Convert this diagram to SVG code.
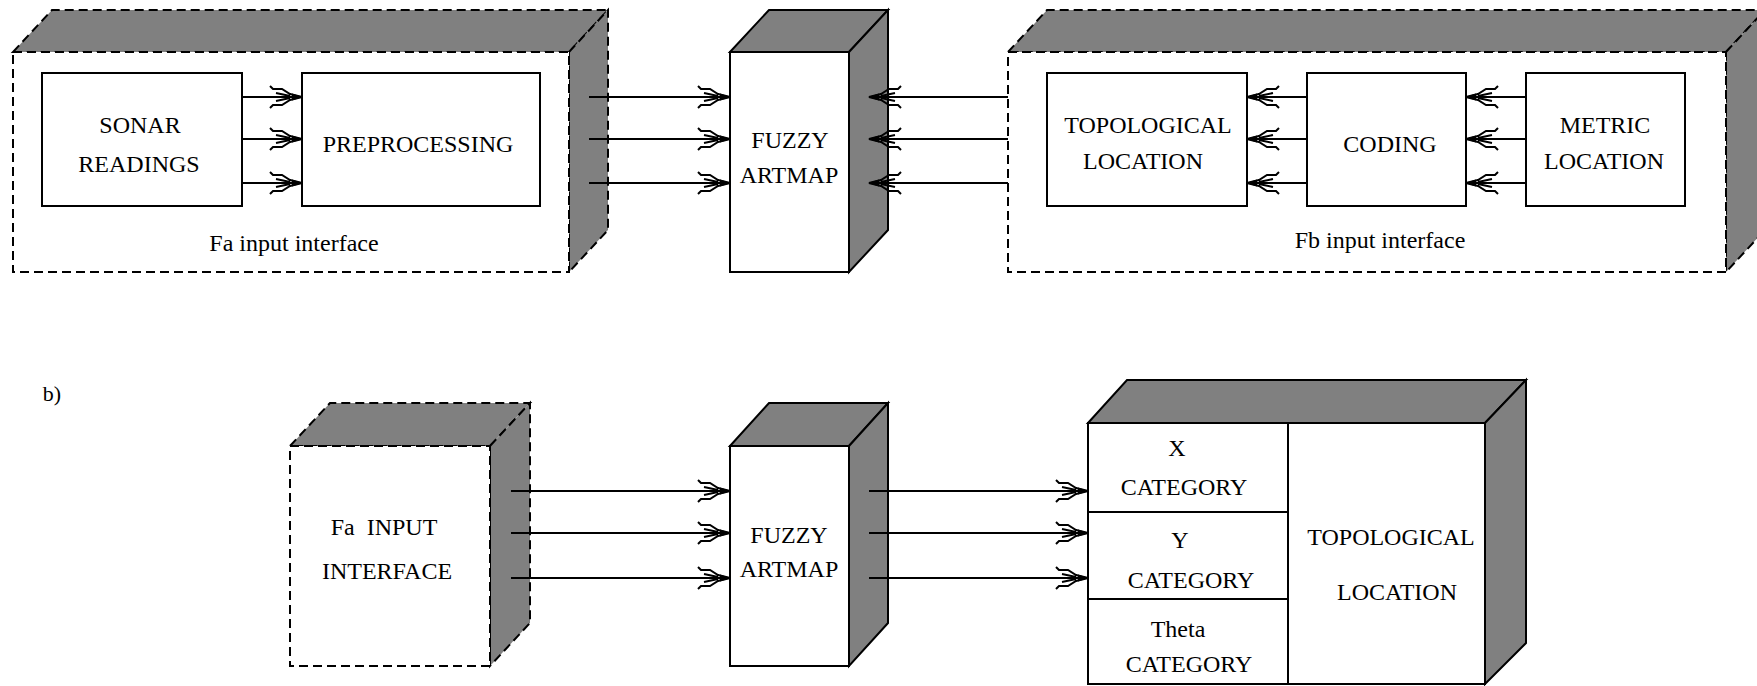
<svg xmlns="http://www.w3.org/2000/svg" width="1757" height="686" viewBox="0 0 1757 686">
<style>
.face{fill:#fff;stroke:#000;stroke-width:2}
.shade{fill:#808080;stroke:#000;stroke-width:2;stroke-linejoin:miter}
.dash{stroke-dasharray:9 5}
.t{font-family:"Liberation Serif","Times New Roman",serif;font-size:24px;text-anchor:middle;fill:#000}
.conn line{stroke:#000;stroke-width:2;marker-end:url(#ah)}
</style>
<defs>
<marker id="ah" markerUnits="userSpaceOnUse" viewBox="-34 -13 36 26" markerWidth="36" markerHeight="26" refX="0" refY="0" orient="auto" overflow="visible">
<path d="M-32,-11 L-29,-8 L-20,-8 L-12,-3 L0,0 M-32,11 L-29,8 L-20,8 L-12,3 L0,0 M-26,-4 L-12,-1 M-26,4 L-12,1" fill="none" stroke="#000" stroke-width="2"/>
<path d="M1,0 L-10,-3.5 L-10,3.5 Z" fill="#000"/>
</marker>
</defs>

<g id="fa-interface">
<polygon class="shade dash" points="13,52 52,10 608,10 569,52"/>
<polygon class="shade dash" points="569,52 608,10 608,230 569,272"/>
<rect class="face dash" x="13" y="52" width="556" height="220"/>
<text class="t" x="294" y="251">Fa input interface</text>
</g>
<g id="sonar">
<rect class="face" x="42" y="73" width="200" height="133"/>
<text class="t" x="140" y="133">SONAR</text>
<text class="t" x="139" y="172">READINGS</text>
</g>
<g id="preprocessing">
<rect class="face" x="302" y="73" width="238" height="133"/>
<text class="t" x="418" y="152">PREPROCESSING</text>
</g>

<g id="fuzzy-a">
<polygon class="shade" points="730,52 769,10 888,10 849,52"/>
<polygon class="shade" points="849,52 888,10 888,230 849,272"/>
<rect class="face" x="730" y="52" width="119" height="220"/>
<text class="t" x="790" y="148">FUZZY</text>
<text class="t" x="789" y="183">ARTMAP</text>
</g>

<g id="fb-interface">
<polygon class="shade dash" points="1008,52 1047,10 1765,10 1726,52"/>
<polygon class="shade dash" points="1726,52 1765,10 1765,230 1726,272"/>
<rect class="face dash" x="1008" y="52" width="718" height="220"/>
<text class="t" x="1380" y="248">Fb input interface</text>
</g>
<g id="topological-a">
<rect class="face" x="1047" y="73" width="200" height="133"/>
<text class="t" x="1148" y="133">TOPOLOGICAL</text>
<text class="t" x="1143" y="169">LOCATION</text>
</g>
<g id="coding">
<rect class="face" x="1307" y="73" width="159" height="133"/>
<text class="t" x="1390" y="152">CODING</text>
</g>
<g id="metric">
<rect class="face" x="1526" y="73" width="159" height="133"/>
<text class="t" x="1605" y="133">METRIC</text>
<text class="t" x="1604" y="169">LOCATION</text>
</g>

<g id="label-b">
<text x="52" y="401" font-family="Liberation Serif, Times New Roman, serif" font-size="22" text-anchor="middle">b)</text>
</g>

<g id="fa-input">
<polygon class="shade dash" points="290,446 330,403 530,403 490,446"/>
<polygon class="shade dash" points="490,446 530,403 530,623 490,666"/>
<rect class="face dash" x="290" y="446" width="200" height="220"/>
<text class="t" x="384" y="535" word-spacing="6">Fa INPUT</text>
<text class="t" x="387" y="579">INTERFACE</text>
</g>

<g id="fuzzy-b">
<polygon class="shade" points="730,446 769,403 888,403 849,446"/>
<polygon class="shade" points="849,446 888,403 888,623 849,666"/>
<rect class="face" x="730" y="446" width="119" height="220"/>
<text class="t" x="789" y="543">FUZZY</text>
<text class="t" x="789" y="577">ARTMAP</text>
</g>

<g id="output-box">
<polygon class="shade" points="1088,423 1127,380 1526,380 1485,423"/>
<polygon class="shade" points="1485,423 1526,380 1526,643 1485,684"/>
<rect class="face" x="1088" y="423" width="397" height="261"/>
<line x1="1288" y1="423" x2="1288" y2="684" stroke="#000" stroke-width="2"/>
<line x1="1088" y1="512" x2="1288" y2="512" stroke="#000" stroke-width="2"/>
<line x1="1088" y1="599" x2="1288" y2="599" stroke="#000" stroke-width="2"/>
<text class="t" x="1177" y="456">X</text>
<text class="t" x="1184" y="495">CATEGORY</text>
<text class="t" x="1180" y="548">Y</text>
<text class="t" x="1191" y="588">CATEGORY</text>
<text class="t" x="1178" y="637" font-size="22">Theta</text>
<text class="t" x="1189" y="672">CATEGORY</text>
<text class="t" x="1391" y="545">TOPOLOGICAL</text>
<text class="t" x="1397" y="600">LOCATION</text>
</g>

<g id="connectors" class="conn">
<line x1="242" y1="97" x2="302" y2="97"/>
<line x1="242" y1="139" x2="302" y2="139"/>
<line x1="242" y1="183" x2="302" y2="183"/>
<line x1="589" y1="97" x2="730" y2="97"/>
<line x1="589" y1="139" x2="730" y2="139"/>
<line x1="589" y1="183" x2="730" y2="183"/>
<line x1="1008" y1="97" x2="869" y2="97"/>
<line x1="1008" y1="139" x2="869" y2="139"/>
<line x1="1008" y1="183" x2="869" y2="183"/>
<line x1="1307" y1="97" x2="1247" y2="97"/>
<line x1="1307" y1="139" x2="1247" y2="139"/>
<line x1="1307" y1="183" x2="1247" y2="183"/>
<line x1="1526" y1="97" x2="1466" y2="97"/>
<line x1="1526" y1="139" x2="1466" y2="139"/>
<line x1="1526" y1="183" x2="1466" y2="183"/>
<line x1="511" y1="491" x2="730" y2="491"/>
<line x1="511" y1="533" x2="730" y2="533"/>
<line x1="511" y1="578" x2="730" y2="578"/>
<line x1="869" y1="491" x2="1088" y2="491"/>
<line x1="869" y1="533" x2="1088" y2="533"/>
<line x1="869" y1="578" x2="1088" y2="578"/>
</g>
</svg>
